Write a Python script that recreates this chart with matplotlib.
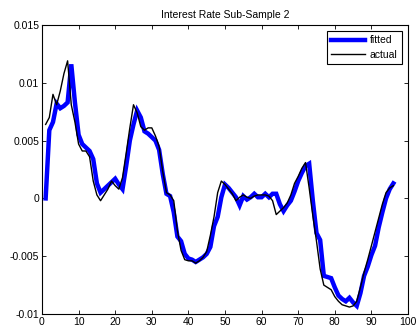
import numpy as np
import matplotlib
matplotlib.use('Agg')
import matplotlib.pyplot as plt

plt.rcParams['font.family'] = ['Liberation Sans', 'DejaVu Sans']

# observations 1..96
periods = np.arange(1, 97)

actual = [0.0064, 0.0070, 0.0090, 0.0081, 0.0093, 0.0108, 0.0119, 0.0081, 0.0066, 0.0047,
          0.0041, 0.0041, 0.0036, 0.0015, 0.0003, -0.0002, 0.0003, 0.0008, 0.0015, 0.0011,
          0.0008, 0.0018, 0.0039, 0.0061, 0.0081, 0.0074, 0.0062, 0.0059, 0.0061, 0.0061,
          0.0054, 0.0045, 0.0023, 0.0005, 0.0003, -0.0002, -0.0028, -0.0045, -0.0053, -0.0054,
          -0.0054, -0.0056, -0.0054, -0.0051, -0.0046, -0.0032, -0.0016, 0.0005, 0.0015, 0.0012,
          0.0008, 0.0004, -0.0002, 0.0001, 0.0003, 0.0001, 0.0000, 0.0002, 0.0003, 0.0003,
          0.0003, 0.0002, -0.0002, -0.0014, -0.0011, -0.0008, -0.0004, 0.0003, 0.0013, 0.0019,
          0.0026, 0.0031, 0.0009, -0.0015, -0.0037, -0.0061, -0.0075, -0.0077, -0.0079, -0.0085,
          -0.0089, -0.0092, -0.0093, -0.0094, -0.0093, -0.0089, -0.0077, -0.0064, -0.0053, -0.0041,
          -0.0029, -0.0017, -0.0005, 0.0005, 0.0009, 0.0011]

fitted = [0.0000, 0.0059, 0.0066, 0.0082, 0.0078, 0.0080, 0.0083, 0.0116, 0.0083, 0.0055,
          0.0047, 0.0044, 0.0041, 0.0034, 0.0013, 0.0005, 0.0008, 0.0011, 0.0014, 0.0017,
          0.0012, 0.0008, 0.0028, 0.0050, 0.0064, 0.0076, 0.0070, 0.0058, 0.0056, 0.0053,
          0.0050, 0.0042, 0.0021, 0.0004, 0.0002, -0.0012, -0.0033, -0.0037, -0.0048, -0.0052,
          -0.0053, -0.0055, -0.0053, -0.0051, -0.0048, -0.0042, -0.0024, -0.0016, 0.0001, 0.0012,
          0.0009, 0.0005, 0.0001, -0.0006, 0.0002, -0.0001, 0.0001, 0.0004, 0.0001, 0.0001,
          0.0004, 0.0001, 0.0004, 0.0004, -0.0005, -0.0011, -0.0006, -0.0002, 0.0006, 0.0015,
          0.0022, 0.0028, 0.0030, -0.0002, -0.0030, -0.0036, -0.0067, -0.0068, -0.0069, -0.0077,
          -0.0084, -0.0087, -0.0089, -0.0086, -0.0090, -0.0093, -0.0082, -0.0067, -0.0059, -0.0049,
          -0.0041, -0.0025, -0.0012, 0.0000, 0.0008, 0.0013]

x_ticks = [0, 10, 20, 30, 40, 50, 60, 70, 80, 90, 100]
y_ticks = [-0.01, -0.005, 0, 0.005, 0.01, 0.015]
y_labels = ['-0.01', '-0.005', '0', '0.005', '0.01', '0.015']

fig = plt.figure(figsize=(4.17, 3.35), dpi=100)
ax = fig.add_axes([0.1007, 0.0627, 0.8777, 0.8627])

ax.plot(periods, fitted, color='#0000ff', linewidth=3.2, label='fitted', solid_joinstyle='miter')
ax.plot(periods, actual, color='black', linewidth=1.0, label='actual')

ax.set_xlim(0, 100)
ax.set_ylim(-0.01, 0.015)
ax.set_xticks(x_ticks)
ax.set_yticks(y_ticks)
ax.set_yticklabels(y_labels)
ax.tick_params(direction='in', length=3, width=0.6, top=True, right=True,
               labelsize=7.5, pad=2)
for s in ax.spines.values():
    s.set_linewidth(0.8)

ax.set_title('Interest Rate Sub-Sample 2', fontsize=7.5, pad=5)

leg = ax.legend(loc='upper right', fontsize=7.5, fancybox=False, framealpha=1,
                edgecolor='black', handlelength=3.2, borderaxespad=0.6,
                borderpad=0.4, labelspacing=0.4, handletextpad=0.5)
leg.get_frame().set_linewidth(0.8)

fig.savefig('out.png', dpi=100)
